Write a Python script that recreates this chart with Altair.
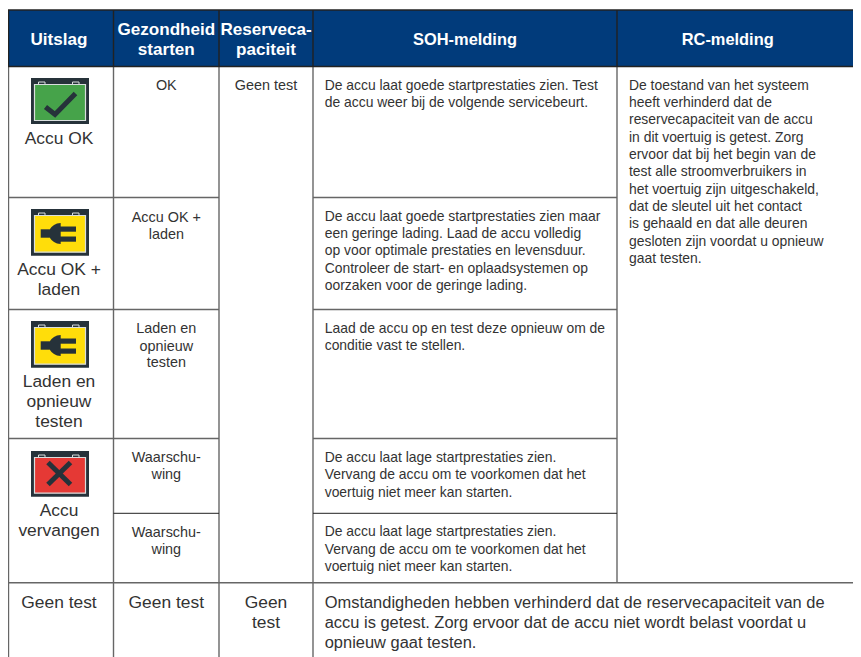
import altair as alt
import pandas as pd

# ---------- content ----------
HEADERS = [["Uitslag"], ["Gezondheid", "starten"], ["Reserveca-", "paciteit"], ["SOH-melding"], ["RC-melding"]]
RESULTS = [["Accu OK"], ["Accu OK +", "laden"], ["Laden en", "opnieuw", "testen"], ["Accu", "vervangen"], ["Geen test"]]
HEALTH = [["OK"], ["Accu OK +", "laden"], ["Laden en", "opnieuw", "testen"], ["Waarschu-", "wing"], ["Waarschu-", "wing"]]
HEALTH_LAST = ["Geen test"]
RESERVE = ["Geen test"]
RESERVE_LAST = ["Geen", "test"]
SOH = [
    ["De accu laat goede startprestaties zien. Test", "de accu weer bij de volgende servicebeurt."],
    ["De accu laat goede startprestaties zien maar", "een geringe lading. Laad de accu volledig",
     "op voor optimale prestaties en levensduur.", "Controleer de start- en oplaadsystemen op",
     "oorzaken voor de geringe lading."],
    ["Laad de accu op en test deze opnieuw om de", "conditie vast te stellen."],
    ["De accu laat lage startprestaties zien.", "Vervang de accu om te voorkomen dat het", "voertuig niet meer kan starten."],
    ["De accu laat lage startprestaties zien.", "Vervang de accu om te voorkomen dat het", "voertuig niet meer kan starten."],
]
RC = ["De toestand van het systeem", "heeft verhinderd dat de", "reservecapaciteit van de accu",
      "in dit voertuig is getest. Zorg", "ervoor dat bij het begin van de", "test alle stroomverbruikers in",
      "het voertuig zijn uitgeschakeld,", "dat de sleutel uit het contact", "is gehaald en dat alle deuren",
      "gesloten zijn voordat u opnieuw", "gaat testen."]
FOOT = ["Omstandigheden hebben verhinderd dat de reservecapaciteit van de",
        "accu is getest. Zorg ervoor dat de accu niet wordt belast voordat u",
        "opnieuw gaat testen."]

# ---------- sheet layout (sheet units, separate from the content) ----------
L, R, T, B = 8, 853, 8, 657
C1, C2, C3, C4 = 113.5, 219, 313, 617
HDR_T, HDR_B = 10, 66.5
ROWS = [197.5, 309.5, 438.5, 513.3, 582.7]
MID = [59, 166.3, 266, 465, 727.7]
LEFT4, LEFT5 = 324.7, 629

FONT = "Liberation Sans"
INK = "#333333"
GRID = "#666666"
DARK = "#222222"
NAVY = "#013B7B"
ICON_BG = "#26323A"
ICON_EDGE = "#D9DEDE"

X = alt.Scale(domain=[L, R], nice=False, zero=False)
Y = alt.Scale(domain=[B, T], nice=False, zero=False)


def xe(f="x"):
    return alt.X(f"{f}:Q", scale=X, axis=None)


def ye(f="y"):
    return alt.Y(f"{f}:Q", scale=Y, axis=None)


def texts(rows, align="center", bold=False, color=INK):
    df = pd.DataFrame(rows, columns=["x", "y", "t", "s"])
    return alt.Chart(df).mark_text(
        font=FONT, align=align, baseline="alphabetic", color=color,
        fontWeight="bold" if bold else "normal",
    ).encode(x=xe(), y=ye(), text="t:N", size=alt.Size("s:Q", scale=None, legend=None))


def place(x, lines, ys, s):
    return [(x, y, t, s) for t, y in zip(lines, ys)]


def boxes(rows, **kw):
    df = pd.DataFrame(rows, columns=["x", "x2", "y", "y2"])
    return alt.Chart(df).mark_rect(**kw).encode(x=xe(), x2="x2:Q", y=ye(), y2="y2:Q")


def rules(rows, color, width):
    df = pd.DataFrame(rows, columns=["x", "x2", "y", "y2"])
    return alt.Chart(df).mark_rule(color=color, strokeWidth=width).encode(
        x=xe(), x2="x2:Q", y=ye(), y2="y2:Q")


def strokes(rows, width):
    df = pd.DataFrame(rows, columns=["g", "o", "x", "y"])
    return alt.Chart(df).mark_line(color=ICON_BG, strokeWidth=width, strokeCap="butt", strokeJoin="miter").encode(
        x=xe(), y=ye(), order="o:Q", detail="g:N")


def icon_base(y0, y1, fill):
    x0 = 31
    layers = [
        boxes([(x0, x0 + 58, y0, y1)], color=ICON_BG),
        boxes([(x0 + 7.5, x0 + 14, y0 + 4, y0 + 8), (x0 + 41.5, x0 + 48, y0 + 4, y0 + 8)],
              fill=ICON_BG, stroke=ICON_EDGE, strokeWidth=1),
        boxes([(x0 + 3.5, x0 + 54.5, y0 + 6.5, y1 - 3.5)], fill=fill, stroke=ICON_EDGE, strokeWidth=1.2),
    ]
    return layers


def plug(y0):
    c = y0 + 24.5
    hx = [50, 51.5, 54, 57, 60.7]
    hw = [4.5, 6.5, 8.5, 10, 10.5]
    head = pd.DataFrame({"x": hx, "y": [c - w for w in hw], "y2": [c + w for w in hw]})
    return [
        boxes([(40.7, 52, c - 4.2, c + 4.2)], color=ICON_BG),
        alt.Chart(head).mark_area(color=ICON_BG).encode(x=xe(), y=ye(), y2="y2:Q"),
        boxes([(60, 76, c - 7, c - 1.8), (60, 76, c + 3, c + 8.2)], color=ICON_BG),
    ]


layers = []

# header band
layers.append(boxes([(L, R, HDR_T, HDR_B)], color=NAVY))

# icons
layers += icon_base(78, 124, "#46A34A")
layers.append(strokes([("c", 0, 45.5, 107), ("c", 1, 55, 114.5), ("c", 2, 75.5, 93.5)], 5))
layers += icon_base(209, 255.7, "#FFDD0A")
layers += plug(209)
layers += icon_base(321, 367.7, "#FFDD0A")
layers += plug(321)
layers += icon_base(451, 496.7, "#E53935")
layers.append(strokes([("a", 0, 48, 462.5), ("a", 1, 70.5, 484.5), ("b", 0, 70.5, 462.5), ("b", 1, 48, 484.5)], 5))

# grid
grey_lines = [
    (L, R, ROWS[4], ROWS[4]),
    (L, C2, ROWS[0], ROWS[0]), (C3, C4, ROWS[0], ROWS[0]),
    (L, C2, ROWS[1], ROWS[1]), (C3, C4, ROWS[1], ROWS[1]),
    (L, C2, ROWS[2], ROWS[2]), (C3, C4, ROWS[2], ROWS[2]),
    (L + 0.5, L + 0.5, HDR_B, B),
    (C1, C1, HDR_B, B),
    (C2, C2, HDR_B, B),
    (C3, C3, HDR_B, B),
    (C4, C4, HDR_B, ROWS[4]),
]
dark_lines = [
    (C1, C2, ROWS[3], ROWS[3]), (C3, C4, ROWS[3], ROWS[3]),
]
header_lines = [
    (L, R, HDR_T, HDR_T), (L, R, HDR_B, HDR_B),
    (L + 0.5, L + 0.5, HDR_T, HDR_B),
    (C1, C1, HDR_T, HDR_B), (C2, C2, HDR_T, HDR_B), (C3, C3, HDR_T, HDR_B), (C4, C4, HDR_T, HDR_B),
]
layers.append(rules(grey_lines, GRID, 1.4))
layers.append(rules(dark_lines, DARK, 1))
layers.append(rules(header_lines, DARK, 1.4))

# header text
H1, H2 = 17.1, 16.4
head = []
head += place(MID[0], HEADERS[0], [45], H1)
head += place(MID[1], HEADERS[1], [35, 55], H1)
head += place(MID[2], HEADERS[2], [35, 55], H1)
head += place(MID[3], HEADERS[3], [45], H2)
head += place(MID[4], HEADERS[4], [45], H2)
layers.append(texts(head, bold=True, color="#FFFFFF"))

# centred body text
BIG, SMALL, BODY, FOOTSIZE = 17.4, 14.4, 13.9, 16.45
centre = []
centre += place(MID[0], RESULTS[0], [144], BIG)
centre += place(MID[0], RESULTS[1], [275, 295], BIG)
centre += place(MID[0], RESULTS[2], [387.3, 407.3, 427.3], BIG)
centre += place(MID[0], RESULTS[3], [516, 536], BIG)
centre += place(MID[0], RESULTS[4], [607.7], BIG)
centre += place(MID[1], HEALTH[0], [90], SMALL)
centre += place(MID[1], HEALTH[1], [221.7, 238.5], SMALL)
centre += place(MID[1], HEALTH[2], [333.3, 350.5, 367.3], SMALL)
centre += place(MID[1], HEALTH[3], [462.3, 479.3], SMALL)
centre += place(MID[1], HEALTH[4], [536.7, 554.3], SMALL)
centre += place(MID[1], HEALTH_LAST, [607.7], BIG)
centre += place(MID[2], RESERVE, [90], SMALL)
centre += place(MID[2], RESERVE_LAST, [607.7, 628], BIG)
layers.append(texts(centre))

# left-aligned body text
left = []
left += place(LEFT4, SOH[0], [90, 107.3], BODY)
left += place(LEFT4, SOH[1], [221, 238.3, 255.3, 273.3, 290.3], BODY)
left += place(LEFT4, SOH[2], [333.3, 350.3], BODY)
left += place(LEFT4, SOH[3], [462.3, 479.3, 496.7], BODY)
left += place(LEFT4, SOH[4], [536, 554, 571.3], BODY)
left += place(LEFT5, RC, [90, 107.3, 124.3, 142.3, 159.3, 176.3, 194.3, 211.3, 228.3, 246, 263.3], BODY)
left += place(LEFT4, FOOT, [608.3, 628.3, 648.3], FOOTSIZE)
layers.append(texts(left, align="left"))

chart = alt.layer(*layers).properties(
    width=R - L, height=B - T, padding=0,
    autosize=alt.AutoSizeParams(type="none"), background="#FFFFFF",
).configure_view(strokeWidth=0)

chart.save("out.html", embed_options={"renderer": "svg", "actions": False})
